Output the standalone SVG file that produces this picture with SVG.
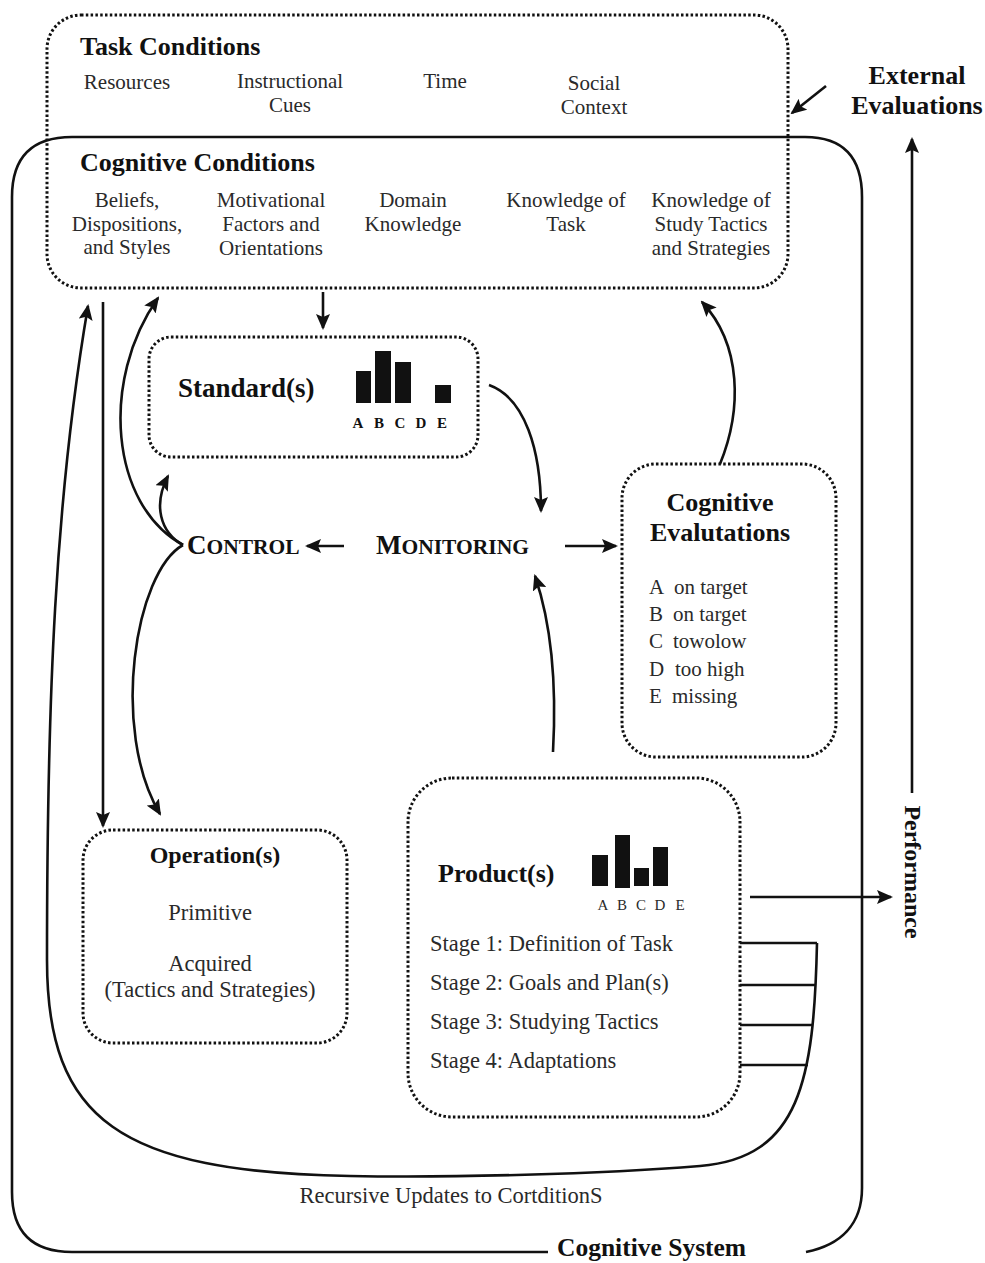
<svg xmlns="http://www.w3.org/2000/svg" width="985" height="1263" viewBox="0 0 985 1263">
  <style>
    .h { font-family: "Liberation Serif", "Times New Roman", serif; font-weight: bold; fill: #111; }
    .t { font-family: "Liberation Serif", "Times New Roman", serif; fill: #2a2a2a; }
    .dot { fill: none; stroke: #111; stroke-width: 3; stroke-dasharray: 2.5 2.3; }
    .solid { fill: none; stroke: #111; stroke-width: 2.6; }
    .arr { fill: none; stroke: #111; stroke-width: 2.6; marker-end: url(#ah); }
    .bar { fill: #111; }
  </style>
  <defs>
    <marker id="ah" markerUnits="userSpaceOnUse" markerWidth="16" markerHeight="14" viewBox="0 0 16 14" refX="14" refY="7" orient="auto">
      <path d="M0,0 L16,7 L0,14 L3,7 Z" fill="#111"/>
    </marker>
  </defs>
  <rect width="985" height="1263" fill="#fff"/>

  <!-- Cognitive system outer boundary -->
  <g id="cognitive-system">
    <path class="solid" d="M548,1252 L72,1252 Q12,1252 12,1192 L12,197 Q12,137 72,137 L805,137 Q862,137 862,197 L862,1188 C862,1225 840,1245 806,1252"/>
    <text class="h" x="557" y="1256" font-size="25.5">Cognitive System</text>
  </g>

  <!-- Task and cognitive conditions -->
  <g id="conditions">
    <rect class="dot" x="47" y="15" width="741" height="273" rx="34" ry="34"/>
    <text class="h" x="80" y="55" font-size="26">Task Conditions</text>
    <g class="t" font-size="21" text-anchor="middle">
      <text x="127" y="89">Resources</text>
      <text x="290" y="88">Instructional</text>
      <text x="290" y="112">Cues</text>
      <text x="445" y="88">Time</text>
      <text x="594" y="90">Social</text>
      <text x="594" y="114">Context</text>
    </g>
    <text class="h" x="80" y="171" font-size="26">Cognitive Conditions</text>
    <g class="t" font-size="21" text-anchor="middle">
      <text x="127" y="207">Beliefs,</text>
      <text x="127" y="231">Dispositions,</text>
      <text x="127" y="254">and Styles</text>
      <text x="271" y="207">Motivational</text>
      <text x="271" y="231">Factors and</text>
      <text x="271" y="255">Orientations</text>
      <text x="413" y="207">Domain</text>
      <text x="413" y="231">Knowledge</text>
      <text x="566" y="207">Knowledge of</text>
      <text x="566" y="231">Task</text>
      <text x="711" y="207">Knowledge of</text>
      <text x="711" y="231">Study Tactics</text>
      <text x="711" y="255">and Strategies</text>
    </g>
  </g>

  <!-- Standards -->
  <g id="standards">
    <rect class="dot" x="149" y="337" width="329" height="120" rx="22" ry="22"/>
    <text class="h" x="178" y="397" font-size="27">Standard(s)</text>
    <rect class="bar" x="356" y="371" width="15" height="32"/>
    <rect class="bar" x="375" y="351" width="16" height="52"/>
    <rect class="bar" x="395" y="362" width="16" height="41"/>
    <rect class="bar" x="435" y="385" width="16" height="18"/>
    <g class="h" font-size="15" text-anchor="middle">
      <text x="358" y="428">A</text>
      <text x="379" y="428">B</text>
      <text x="400" y="428">C</text>
      <text x="421" y="428">D</text>
      <text x="442" y="428">E</text>
    </g>
  </g>

  <!-- Cognitive evaluations -->
  <g id="evaluations">
    <rect class="dot" x="622" y="464" width="214" height="293" rx="34" ry="34"/>
    <text class="h" x="720" y="511" font-size="26" text-anchor="middle">Cognitive</text>
    <text class="h" x="720" y="541" font-size="26" text-anchor="middle">Evalutations</text>
    <g class="t" font-size="21">
      <text x="649" y="594">A<tspan x="674">on target</tspan></text>
      <text x="649" y="621">B<tspan x="673">on target</tspan></text>
      <text x="649" y="648">C<tspan x="673">towolow</tspan></text>
      <text x="649" y="676">D<tspan x="675">too high</tspan></text>
      <text x="649" y="703">E<tspan x="672">missing</tspan></text>
    </g>
  </g>

  <!-- Monitoring and control -->
  <g id="monitoring">
    <text class="h" x="376" y="554" font-size="27">M<tspan font-size="21.5">ONITORING</tspan></text>
  </g>
  <g id="control">
    <text class="h" x="187" y="554" font-size="27">C<tspan font-size="21.5">ONTROL</tspan></text>
  </g>

  <!-- Operations -->
  <g id="operations">
    <rect class="dot" x="83" y="830" width="264" height="213" rx="30" ry="30"/>
    <text class="h" x="215" y="863" font-size="24" text-anchor="middle">Operation(s)</text>
    <g class="t" font-size="22.5" text-anchor="middle">
      <text x="210" y="920">Primitive</text>
      <text x="210" y="971">Acquired</text>
      <text x="210" y="997">(Tactics and Strategies)</text>
    </g>
  </g>

  <!-- Products -->
  <g id="products">
    <rect class="dot" x="408" y="778" width="332" height="339" rx="44" ry="44"/>
    <text class="h" x="438" y="882" font-size="26">Product(s)</text>
    <rect class="bar" x="592" y="855" width="16" height="31"/>
    <rect class="bar" x="615" y="835" width="15" height="53"/>
    <rect class="bar" x="634" y="868" width="15" height="18"/>
    <rect class="bar" x="653" y="847" width="15" height="39"/>
    <g class="t" font-size="15" text-anchor="middle">
      <text x="603" y="910">A</text>
      <text x="622" y="910">B</text>
      <text x="641" y="910">C</text>
      <text x="660" y="910">D</text>
      <text x="680" y="910">E</text>
    </g>
    <g class="t" font-size="22.5">
      <text x="430" y="951">Stage 1: Definition of Task</text>
      <text x="430" y="990">Stage 2: Goals and Plan(s)</text>
      <text x="430" y="1029">Stage 3: Studying Tactics</text>
      <text x="430" y="1068">Stage 4: Adaptations</text>
    </g>
  </g>

  <!-- Outside labels -->
  <g id="external-evaluations">
    <text class="h" x="917" y="84" font-size="26" text-anchor="middle">External</text>
    <text class="h" x="917" y="114" font-size="26" text-anchor="middle">Evaluations</text>
  </g>
  <g id="performance">
    <text class="h" font-size="24" text-anchor="middle" transform="translate(905,872) rotate(90)">Performance</text>
  </g>
  <g id="recursive-label">
    <text class="t" x="451" y="1203" font-size="22.5" text-anchor="middle">Recursive Updates to CortditionS</text>
  </g>

  <!-- Connectors -->
  <g id="connectors">
    <path class="arr" d="M323,292 L323,328"/>
    <path class="arr" d="M103,302 L103,826"/>
    <path class="arr" d="M489,385 C525,398 541,450 541,511"/>
    <path class="arr" d="M553,752 C557,680 550,620 535,576"/>
    <path class="arr" d="M720,464 C742,410 742,345 702,302"/>
    <path class="arr" d="M565,546 L616,546"/>
    <path class="arr" d="M344,546 L307,546"/>
    <path class="arr" d="M183,545 C110,505 100,380 158,298"/>
    <path class="arr" d="M183,545 C160,532 153,505 168,476"/>
    <path class="arr" d="M183,545 C135,572 110,730 160,814"/>
    <path class="arr" d="M826,86 L792,113"/>
    <path class="arr" d="M912,793 L912,139"/>
    <path class="arr" d="M750,897 L891,897"/>
    <path class="arr" d="M817,943 C814,1080 800,1158 700,1166 C600,1174 450,1178 350,1176 C120,1172 47,1120 47,960 C47,700 55,500 88,306"/>
    <path class="solid" d="M740,943 L817,943 M740,985 L815,985 M740,1025 L812,1025 M740,1065 L808,1065"/>
  </g>
</svg>
